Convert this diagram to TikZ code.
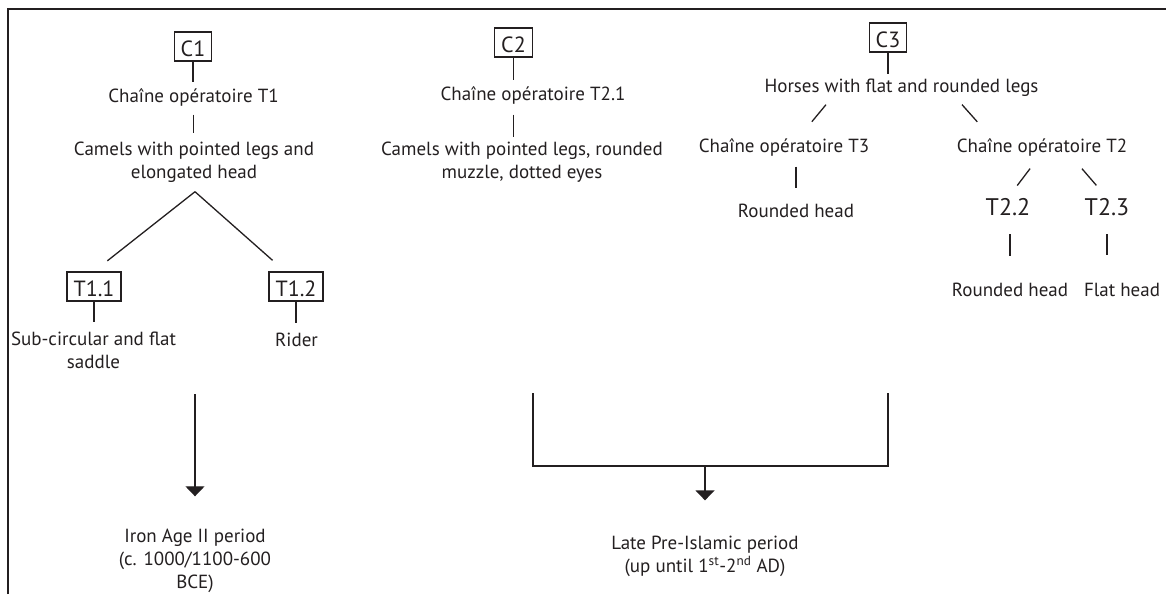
\documentclass[tikz,border=0pt]{standalone}
\usepackage{fontspec}
\setmainfont{PT Sans}
\usetikzlibrary{arrows.meta}
\usetikzlibrary{calc}
\definecolor{ink}{RGB}{35,31,32}
\tikzset{
	txt/.style={inner sep=0pt, anchor=base, align=center, text=ink,
		font=\fontsize{19}{23}\selectfont},
	big/.style={txt, font=\fontsize{24}{24}\selectfont},
	tbox/.style={draw=ink, line width=1.3pt, inner xsep=6.5pt, inner ysep=0pt,
		minimum height=29pt, text height=20pt, text depth=0pt, text=ink,
		font=\fontsize{22}{22}\selectfont},
	link/.style={draw=ink, line width=1.3pt},
	arr/.style={link, -{Triangle[width=19pt,length=10pt]}},
}

\begin{document}
\begin{tikzpicture}[x=1pt,y=-1pt]
		\useasboundingbox (0,0) rectangle (1166,594);
		% frame === V
		\draw[ink, line width=2pt] (7.5,594) -- (7.5,9.5) -- (1166,9.5);

		% C1 ==== V
		% (multi-line nodes sit on their last baseline)
		\node[tbox] (c1) at (193,46.5) {C1};
		\node[txt] (ch1) at (193.5,102) {Chaîne opératoire T1};
		\node[txt] (cam1) at (194,178) {Camels with pointed legs and\\elongated head};
		\node[tbox] (t11) at (94,286.5) {T1.1};
		\node[tbox] (t12) at (296,286.5) {T1.2};
		\node[txt] (sub) at (93.5,368) {Sub-circular and flat\\saddle};
		\node[txt] (rider) at (296.5,346) {Rider};
		\node[txt] (iron) at (195,588) {Iron Age II period\\(c. 1000/1100-600\\BCE)};
		\coordinate (apex) at ($(cam1.south)+(1,9.5)$);

		\draw[link, shorten >=6pt] (c1.south) -- (c1.south |- ch1.north);
		\draw[link, shorten <=8.5pt, shorten >=8.5pt] (ch1.south) -- (ch1.south |- cam1.north);
		\draw[link, shorten >=17pt] (apex) -- (t11.north);
		\draw[link, shorten >=16.6pt] (apex) -- ($(t12.north)+(-11,0)$);
		\draw[link, shorten >=9.5pt] (t11.south) -- (t11.south |- sub.north);
		\draw[link, shorten >=9.5pt] (t12.south) -- (t12.south |- rider.north);
		\draw[arr, shorten >=32pt] ($(iron.north)+(0,-134)$) -- (iron.north);

		% C2 ==== V
		\node[tbox] (c2) at (513.5,42.5) {C2};
		\node[txt] (ch21) at (533,100) {Chaîne opératoire T2.1};
		\node[txt] (cam2) at (522,178) {Camels with pointed legs, rounded\\muzzle, dotted eyes};

		\draw[link, shorten >=6pt] (c2.south) -- (c2.south |- ch21.north);
		\draw[link, shorten <=10.5pt, shorten >=4.5pt] (c2 |- ch21.south) -- (c2 |- cam2.north);

		% C3 ==== V
		\node[tbox] (c3) at (888,37.5) {C3};
		\node[txt] (horses) at (901.5,92) {Horses with flat and rounded legs};
		\node[txt] (ch3) at (784,152) {Chaîne opératoire T3};
		\node[txt] (ch2) at (1042,152) {Chaîne opératoire T2};
		\node[txt] (rh1) at (796,217) {Rounded head};
		\node[big] (t22) at (1008,215) {T2.2};
		\node[big] (t23) at (1107,215) {T2.3};
		\node[txt] (rh2) at (1010,296) {Rounded head};
		\node[txt] (fh) at (1122,296) {Flat head};

		\draw[link, shorten >=4pt] (c3.south) -- (c3.south |- horses.north);
		\draw[link, shorten <=11pt, shorten >=21pt]
			($(horses.south)+(-68.5,0)$) -- ($(ch3.north)+(14.4,0)$);
		\draw[link, shorten <=11.3pt, shorten >=21.5pt]
			($(horses.south)+(53,0)$) -- ($(ch2.north)+(-50.4,0)$);
		\draw[link, shorten <=10.5pt, shorten >=15pt] (rh1 |- ch3.south) -- (rh1.north);
		\draw[link, shorten <=15.8pt, shorten >=15.3pt]
			($(ch2.south)+(-2.4,0)$) -- (t22.north);
		\draw[link, shorten <=16.7pt, shorten >=16.3pt]
			($(ch2.south)+(29,0)$) -- (t23.north);
		\draw[link, shorten <=19pt, shorten >=26pt] (rh2 |- t22.south) -- (rh2.north);
		\draw[link, shorten <=19pt, shorten >=28pt] (t23.south) -- (t23.south |- fh.north);

		% late period ==== V
		\node[txt] (late) at (705,572) {Late Pre-Islamic period\\(up until 1\textsuperscript{st}-2\textsuperscript{nd} AD)};
		\coordinate (joinL) at (533,393);
		\coordinate (joinR) at (888,393);
		\coordinate (join) at (705,466);
		\draw[link] (joinL) |- (join) -| (joinR);
		\draw[arr, shorten >=35pt] (join) -- (late.north);
\end{tikzpicture}
\end{document}
